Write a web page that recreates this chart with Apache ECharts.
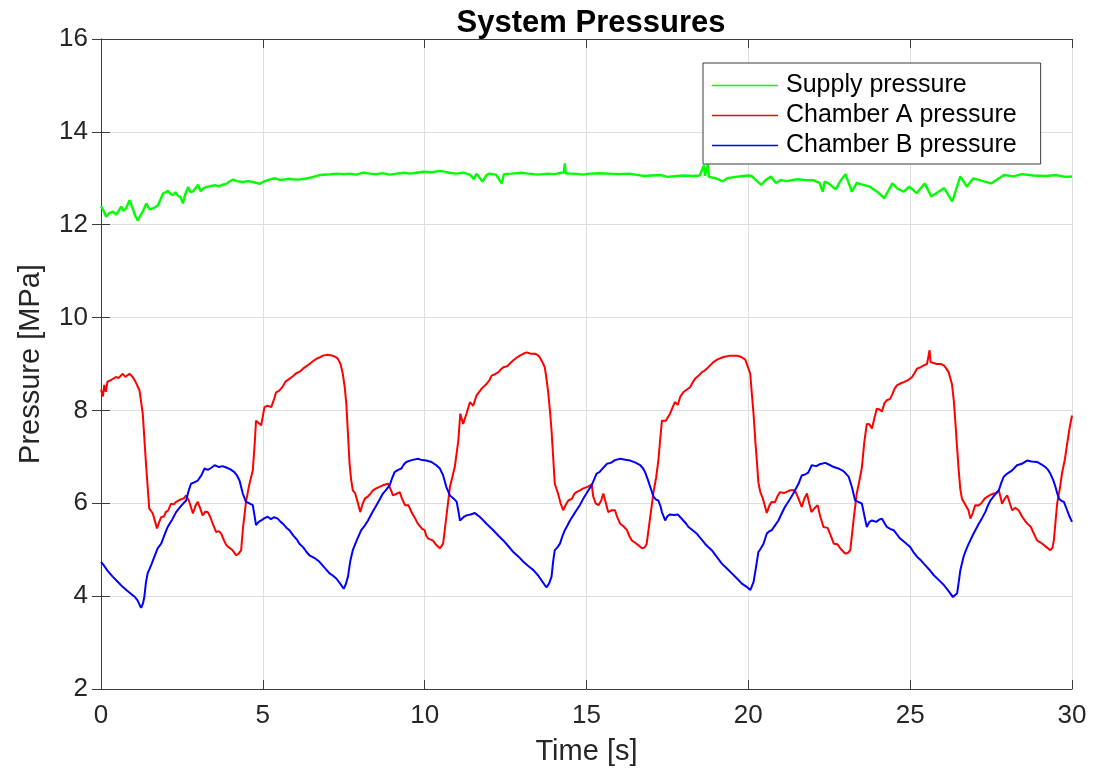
<!DOCTYPE html>
<html>
<head>
<meta charset="utf-8">
<title>System Pressures</title>
<script src="https://cdn.jsdelivr.net/npm/echarts@6/dist/echarts.min.js"></script>
<style>
  html, body { margin: 0; padding: 0; background: #fff; }
  #chart { width: 1104px; height: 772px; }
</style>
</head>
<body>
<div id="chart"></div>
<script>
// Axis ticks
const timeTicks = [0, 5, 10, 15, 20, 25, 30];
const pressureTicks = [2, 4, 6, 8, 10, 12, 14, 16];

// Supply pressure [MPa] over time [s]
const supplyTime = [
  0.00, 0.08, 0.16, 0.25, 0.37, 0.47, 0.55, 0.62, 0.70, 0.78, 0.88, 0.98, 1.05, 1.14, 1.22, 1.30,
  1.40, 1.50, 1.60, 1.68, 1.76, 1.84, 1.91, 2.00, 2.07, 2.15, 2.22, 2.30, 2.38, 2.45, 2.53, 2.60,
  2.69, 2.77, 2.85, 3.00, 3.08, 3.15, 3.25, 3.38, 3.51, 3.65, 3.75, 3.87, 3.97, 4.08, 4.20, 4.39,
  4.55, 4.70, 4.90, 5.00, 5.11, 5.25, 5.37, 5.50, 5.65, 5.80, 5.93, 6.10, 6.30, 6.50, 6.76, 7.00,
  7.27, 7.50, 7.70, 7.89, 8.10, 8.30, 8.50, 8.70, 8.90, 9.13, 9.35, 9.55, 9.75, 9.95, 10.20, 10.40,
  10.57, 10.75, 10.98, 11.20, 11.40, 11.52, 11.60, 11.79, 11.91, 12.00, 12.20, 12.38, 12.45, 12.70, 13.00, 13.20,
  13.50, 13.80, 14.00, 14.30, 14.33, 14.36, 14.60, 14.90, 15.10, 15.40, 15.70, 16.00, 16.30, 16.50, 16.80, 17.00,
  17.30, 17.50, 17.80, 18.00, 18.30, 18.50, 18.63, 18.66, 18.75, 18.78, 19.00, 19.10, 19.20, 19.35, 19.60, 19.85,
  20.00, 20.10, 20.20, 20.40, 20.55, 20.70, 20.85, 21.00, 21.20, 21.50, 21.80, 22.00, 22.20, 22.30, 22.36, 22.50,
  22.70, 22.85, 23.00, 23.20, 23.35, 23.55, 23.75, 24.00, 24.20, 24.45, 24.60, 24.80, 24.97, 25.20, 25.45, 25.65,
  25.90, 26.05, 26.30, 26.55, 26.75, 26.95, 27.20, 27.50, 27.90, 28.20, 28.45, 28.80, 29.20, 29.50, 29.80, 30.00
];
const supplyMPa = [
  12.40, 12.30, 12.17, 12.25, 12.28, 12.22, 12.30, 12.39, 12.30, 12.36, 12.53, 12.35, 12.20, 12.09, 12.20, 12.30,
  12.46, 12.33, 12.35, 12.38, 12.42, 12.55, 12.67, 12.70, 12.73, 12.66, 12.64, 12.70, 12.62, 12.60, 12.46, 12.65,
  12.81, 12.70, 12.72, 12.86, 12.72, 12.78, 12.81, 12.83, 12.85, 12.83, 12.86, 12.88, 12.93, 12.97, 12.94, 12.92,
  12.94, 12.92, 12.88, 12.92, 12.95, 12.98, 13.00, 12.97, 12.97, 12.99, 12.98, 12.97, 12.99, 13.02, 13.07, 13.08,
  13.10, 13.09, 13.10, 13.08, 13.12, 13.10, 13.09, 13.11, 13.08, 13.10, 13.12, 13.10, 13.12, 13.14, 13.13, 13.15,
  13.15, 13.12, 13.10, 13.12, 13.08, 12.98, 13.10, 12.93, 13.07, 13.10, 13.08, 12.89, 13.09, 13.10, 13.12, 13.10,
  13.08, 13.10, 13.09, 13.13, 13.32, 13.10, 13.10, 13.08, 13.10, 13.11, 13.10, 13.09, 13.10, 13.08, 13.05, 13.06,
  13.07, 13.03, 13.05, 13.06, 13.05, 13.06, 13.28, 13.05, 13.30, 13.03, 13.00, 12.97, 12.93, 13.00, 13.03, 13.05,
  13.06, 13.05, 12.98, 12.86, 12.97, 13.04, 12.90, 12.96, 12.94, 12.98, 12.96, 12.96, 12.90, 12.71, 12.93, 12.88,
  12.76, 12.95, 13.09, 12.71, 12.90, 12.86, 12.82, 12.70, 12.57, 12.89, 12.78, 12.71, 12.82, 12.68, 12.89, 12.61,
  12.72, 12.79, 12.50, 13.04, 12.82, 13.00, 12.95, 12.89, 13.07, 13.04, 13.09, 13.06, 13.05, 13.07, 13.03, 13.04
];

// Chamber A pressure [MPa] over time [s]
const chamberATime = [
  0.00, 0.06, 0.10, 0.15, 0.20, 0.30, 0.46, 0.55, 0.67, 0.75, 0.88, 0.98, 1.08, 1.19, 1.29, 1.39,
  1.49, 1.60, 1.73, 1.80, 1.86, 1.95, 2.00, 2.08, 2.16, 2.25, 2.32, 2.45, 2.55, 2.63, 2.72, 2.84,
  2.92, 2.99, 3.06, 3.14, 3.22, 3.30, 3.38, 3.45, 3.56, 3.64, 3.71, 3.80, 3.87, 3.95, 4.05, 4.18,
  4.26, 4.33, 4.38, 4.48, 4.58, 4.69, 4.75, 4.79, 4.85, 4.95, 5.05, 5.15, 5.26, 5.35, 5.41, 5.50,
  5.60, 5.70, 5.82, 5.92, 6.03, 6.13, 6.24, 6.34, 6.44, 6.55, 6.65, 6.75, 6.86, 7.00, 7.16, 7.25,
  7.32, 7.40, 7.47, 7.53, 7.58, 7.63, 7.68, 7.73, 7.78, 7.85, 7.92, 8.01, 8.08, 8.15, 8.25, 8.32,
  8.40, 8.50, 8.62, 8.75, 8.87, 8.95, 9.02, 9.12, 9.23, 9.30, 9.39, 9.50, 9.60, 9.70, 9.79, 9.92,
  10.00, 10.05, 10.11, 10.25, 10.36, 10.47, 10.57, 10.67, 10.78, 10.93, 11.04, 11.10, 11.19, 11.29, 11.40, 11.50,
  11.60, 11.76, 11.91, 12.00, 12.07, 12.17, 12.27, 12.35, 12.43, 12.55, 12.65, 12.74, 12.85, 12.94, 13.05, 13.15,
  13.28, 13.40, 13.48, 13.55, 13.63, 13.71, 13.76, 13.81, 13.87, 13.92, 13.97, 14.02, 14.12, 14.20, 14.28, 14.36,
  14.44, 14.55, 14.62, 14.69, 14.80, 14.90, 15.05, 15.16, 15.21, 15.28, 15.37, 15.45, 15.52, 15.60, 15.67, 15.78,
  15.88, 15.95, 16.04, 16.15, 16.25, 16.32, 16.40, 16.50, 16.60, 16.71, 16.80, 16.86, 16.97, 17.07, 17.15, 17.22,
  17.28, 17.33, 17.45, 17.58, 17.65, 17.73, 17.82, 17.90, 17.99, 18.10, 18.20, 18.28, 18.35, 18.45, 18.56, 18.65,
  18.72, 18.82, 18.92, 19.05, 19.23, 19.44, 19.65, 19.78, 19.90, 19.97, 20.06, 20.10, 20.16, 20.22, 20.27, 20.31,
  20.37, 20.45, 20.57, 20.65, 20.72, 20.82, 20.90, 20.98, 21.10, 21.20, 21.30, 21.44, 21.55, 21.65, 21.73, 21.81,
  21.88, 21.95, 22.05, 22.14, 22.22, 22.32, 22.45, 22.55, 22.64, 22.75, 22.85, 22.99, 23.08, 23.15, 23.25, 23.35,
  23.45, 23.51, 23.58, 23.66, 23.74, 23.82, 23.90, 23.97, 24.05, 24.13, 24.20, 24.28, 24.38, 24.45, 24.52, 24.59,
  24.70, 24.80, 24.93, 25.06, 25.13, 25.21, 25.32, 25.42, 25.52, 25.58, 25.60, 25.63, 25.72, 25.83, 25.95, 26.04,
  26.12, 26.19, 26.29, 26.35, 26.40, 26.45, 26.50, 26.55, 26.60, 26.68, 26.74, 26.80, 26.86, 26.94, 27.01, 27.10,
  27.20, 27.30, 27.38, 27.48, 27.58, 27.66, 27.74, 27.84, 27.92, 28.00, 28.08, 28.15, 28.25, 28.35, 28.46, 28.55,
  28.62, 28.72, 28.82, 28.92, 29.02, 29.13, 29.22, 29.33, 29.40, 29.44, 29.54, 29.62, 29.69, 29.78, 29.85, 29.92,
  30.00
];
const chamberAMPa = [
  8.45, 8.30, 8.55, 8.40, 8.62, 8.65, 8.72, 8.70, 8.79, 8.72, 8.79, 8.72, 8.60, 8.43, 7.93, 6.85,
  5.89, 5.78, 5.46, 5.60, 5.70, 5.72, 5.81, 5.85, 5.99, 5.98, 6.03, 6.08, 6.10, 6.17, 6.05, 5.78,
  5.95, 6.03, 5.90, 5.74, 5.82, 5.81, 5.70, 5.56, 5.38, 5.40, 5.35, 5.20, 5.10, 5.05, 5.00, 4.88,
  4.92, 4.99, 5.42, 6.03, 6.40, 6.71, 7.30, 7.78, 7.82, 7.68, 8.07, 8.10, 8.07, 8.25, 8.39, 8.42,
  8.50, 8.62, 8.68, 8.73, 8.80, 8.83, 8.90, 8.95, 9.00, 9.06, 9.11, 9.14, 9.18, 9.20, 9.18, 9.15,
  9.11, 9.00, 8.79, 8.50, 8.14, 7.50, 6.85, 6.50, 6.28, 6.22, 6.05, 5.81, 5.98, 6.10, 6.15, 6.20,
  6.28, 6.32, 6.36, 6.40, 6.42, 6.30, 6.17, 6.20, 6.24, 6.10, 5.96, 5.96, 5.80, 5.68, 5.56, 5.45,
  5.42, 5.30, 5.24, 5.20, 5.10, 5.03, 5.13, 5.71, 6.35, 6.78, 7.35, 7.93, 7.71, 7.93, 8.18, 8.10,
  8.32, 8.47, 8.57, 8.65, 8.75, 8.78, 8.82, 8.88, 8.93, 8.95, 9.02, 9.08, 9.14, 9.18, 9.22, 9.25,
  9.22, 9.22, 9.20, 9.15, 9.05, 8.93, 8.70, 8.43, 8.00, 7.57, 7.00, 6.42, 6.21, 6.00, 5.85, 5.97,
  6.06, 6.10, 6.20, 6.24, 6.28, 6.32, 6.36, 6.41, 6.14, 6.00, 5.96, 6.05, 6.21, 6.00, 5.81, 5.85,
  5.85, 5.70, 5.56, 5.50, 5.42, 5.30, 5.20, 5.15, 5.10, 5.03, 5.05, 5.13, 5.71, 6.24, 6.55, 6.92,
  7.40, 7.78, 7.78, 7.93, 8.05, 8.18, 8.12, 8.30, 8.39, 8.45, 8.50, 8.60, 8.68, 8.74, 8.82, 8.86,
  8.90, 8.97, 9.04, 9.10, 9.15, 9.18, 9.18, 9.15, 9.10, 8.97, 8.79, 8.43, 7.93, 7.30, 6.85, 6.45,
  6.24, 6.10, 5.79, 5.95, 6.03, 6.02, 6.15, 6.24, 6.22, 6.25, 6.28, 6.28, 6.10, 5.92, 6.10, 6.21,
  6.00, 5.81, 5.90, 5.96, 5.72, 5.49, 5.47, 5.30, 5.13, 5.12, 5.02, 4.92, 4.93, 4.99, 5.63, 6.21,
  6.55, 6.78, 7.30, 7.71, 7.70, 7.61, 7.85, 8.04, 8.02, 7.98, 8.15, 8.22, 8.25, 8.35, 8.47, 8.54,
  8.58, 8.61, 8.65, 8.72, 8.80, 8.90, 8.93, 8.97, 9.00, 9.04, 9.30, 9.04, 9.02, 9.00, 9.00, 8.97,
  8.90, 8.82, 8.57, 8.20, 7.71, 7.20, 6.71, 6.30, 6.10, 6.00, 5.99, 5.85, 5.67, 5.80, 5.96, 5.95,
  6.00, 6.10, 6.14, 6.18, 6.21, 6.22, 6.28, 5.99, 6.10, 6.17, 6.00, 5.85, 5.90, 5.85, 5.71, 5.62,
  5.56, 5.50, 5.35, 5.20, 5.16, 5.10, 5.05, 4.99, 5.05, 5.20, 5.99, 6.30, 6.64, 6.95, 7.28, 7.60,
  7.89
];

// Chamber B pressure [MPa] over time [s]
const chamberBTime = [
  0.00, 0.10, 0.20, 0.36, 0.50, 0.67, 0.80, 0.98, 1.05, 1.13, 1.20, 1.24, 1.30, 1.34, 1.39, 1.44,
  1.55, 1.65, 1.75, 1.86, 1.95, 2.06, 2.20, 2.32, 2.48, 2.63, 2.70, 2.78, 2.88, 2.99, 3.10, 3.20,
  3.30, 3.40, 3.51, 3.65, 3.75, 3.87, 4.00, 4.12, 4.20, 4.28, 4.33, 4.38, 4.48, 4.58, 4.69, 4.74,
  4.79, 4.87, 4.95, 5.05, 5.15, 5.25, 5.35, 5.46, 5.55, 5.62, 5.72, 5.82, 5.95, 6.05, 6.13, 6.25,
  6.35, 6.44, 6.60, 6.75, 6.90, 7.06, 7.15, 7.27, 7.40, 7.50, 7.56, 7.63, 7.70, 7.78, 7.90, 8.04,
  8.15, 8.25, 8.38, 8.51, 8.60, 8.71, 8.82, 8.92, 9.00, 9.07, 9.18, 9.28, 9.35, 9.43, 9.60, 9.79,
  9.92, 10.05, 10.21, 10.36, 10.47, 10.57, 10.67, 10.78, 10.90, 10.99, 11.05, 11.09, 11.20, 11.29, 11.42, 11.55,
  11.62, 11.70, 11.80, 11.91, 12.00, 12.12, 12.28, 12.43, 12.58, 12.74, 12.90, 13.05, 13.20, 13.36, 13.50, 13.61,
  13.70, 13.77, 13.85, 13.92, 13.97, 14.02, 14.10, 14.18, 14.25, 14.33, 14.41, 14.49, 14.60, 14.69, 14.80, 14.90,
  15.03, 15.16, 15.24, 15.31, 15.40, 15.50, 15.63, 15.75, 15.88, 16.04, 16.20, 16.35, 16.50, 16.66, 16.75, 16.81,
  16.90, 16.97, 17.07, 17.15, 17.22, 17.28, 17.33, 17.43, 17.50, 17.58, 17.70, 17.82, 17.90, 17.99, 18.08, 18.15,
  18.28, 18.40, 18.52, 18.66, 18.76, 18.87, 19.02, 19.18, 19.33, 19.49, 19.65, 19.80, 19.95, 20.06, 20.10, 20.16,
  20.22, 20.31, 20.36, 20.47, 20.57, 20.65, 20.72, 20.82, 20.93, 21.03, 21.13, 21.26, 21.39, 21.47, 21.55, 21.65,
  21.75, 21.85, 21.96, 22.10, 22.20, 22.38, 22.50, 22.64, 22.78, 22.90, 23.00, 23.10, 23.20, 23.30, 23.40, 23.51,
  23.58, 23.66, 23.74, 23.82, 23.95, 24.05, 24.13, 24.20, 24.28, 24.38, 24.49, 24.59, 24.69, 24.85, 25.00, 25.10,
  25.21, 25.32, 25.42, 25.58, 25.73, 25.88, 26.04, 26.14, 26.24, 26.32, 26.37, 26.45, 26.50, 26.55, 26.65, 26.73,
  26.81, 26.96, 27.12, 27.22, 27.32, 27.40, 27.48, 27.60, 27.74, 27.82, 27.89, 28.00, 28.15, 28.30, 28.45, 28.61,
  28.75, 28.92, 29.05, 29.18, 29.26, 29.33, 29.42, 29.49, 29.55, 29.60, 29.68, 29.75, 29.85, 29.92, 30.00
];
const chamberBMPa = [
  4.74, 4.65, 4.55, 4.42, 4.32, 4.20, 4.12, 4.02, 3.98, 3.91, 3.80, 3.75, 3.85, 3.99, 4.30, 4.49,
  4.67, 4.85, 5.03, 5.13, 5.30, 5.49, 5.65, 5.81, 5.95, 6.06, 6.25, 6.42, 6.45, 6.49, 6.60, 6.75,
  6.72, 6.76, 6.82, 6.78, 6.80, 6.77, 6.73, 6.67, 6.60, 6.49, 6.35, 6.21, 6.03, 6.00, 5.96, 5.75,
  5.53, 5.60, 5.63, 5.68, 5.71, 5.66, 5.70, 5.67, 5.60, 5.56, 5.48, 5.42, 5.30, 5.22, 5.13, 5.05,
  4.95, 4.88, 4.82, 4.74, 4.62, 4.49, 4.45, 4.38, 4.26, 4.16, 4.25, 4.42, 4.75, 4.99, 5.20, 5.42,
  5.52, 5.63, 5.80, 5.96, 6.07, 6.21, 6.30, 6.39, 6.55, 6.67, 6.72, 6.75, 6.83, 6.89, 6.93, 6.96,
  6.93, 6.92, 6.89, 6.82, 6.75, 6.60, 6.35, 6.17, 6.10, 6.03, 5.80, 5.63, 5.70, 5.74, 5.76, 5.79,
  5.75, 5.71, 5.64, 5.56, 5.50, 5.42, 5.30, 5.20, 5.08, 4.95, 4.85, 4.74, 4.65, 4.56, 4.45, 4.34,
  4.25, 4.19, 4.28, 4.42, 4.75, 4.99, 5.05, 5.13, 5.28, 5.42, 5.52, 5.63, 5.75, 5.85, 5.97, 6.10,
  6.25, 6.39, 6.52, 6.64, 6.67, 6.75, 6.85, 6.87, 6.93, 6.96, 6.94, 6.92, 6.88, 6.82, 6.75, 6.67,
  6.50, 6.35, 6.14, 6.08, 6.06, 5.95, 5.81, 5.63, 5.72, 5.76, 5.75, 5.76, 5.70, 5.63, 5.56, 5.49,
  5.42, 5.35, 5.25, 5.13, 5.06, 4.99, 4.85, 4.70, 4.60, 4.49, 4.38, 4.27, 4.20, 4.13, 4.09, 4.30,
  4.55, 4.95, 5.00, 5.13, 5.35, 5.40, 5.42, 5.52, 5.63, 5.78, 5.92, 6.06, 6.21, 6.32, 6.42, 6.60,
  6.62, 6.66, 6.82, 6.80, 6.84, 6.87, 6.83, 6.78, 6.75, 6.71, 6.65, 6.57, 6.35, 6.06, 6.03, 5.99,
  5.75, 5.49, 5.60, 5.63, 5.60, 5.65, 5.67, 5.58, 5.49, 5.45, 5.42, 5.33, 5.24, 5.15, 5.06, 4.95,
  4.85, 4.78, 4.70, 4.58, 4.45, 4.35, 4.24, 4.15, 4.06, 3.98, 3.95, 4.06, 4.30, 4.56, 4.85, 5.00,
  5.13, 5.35, 5.56, 5.68, 5.81, 5.95, 6.06, 6.17, 6.28, 6.45, 6.57, 6.64, 6.71, 6.82, 6.85, 6.92,
  6.90, 6.89, 6.84, 6.78, 6.72, 6.64, 6.50, 6.35, 6.20, 6.10, 6.05, 6.03, 5.85, 5.72, 5.60
];

const pairs = (xs, ys) => xs.map((x, i) => [x, ys[i]]);

const FONT = '"Liberation Sans", Arial, Helvetica, sans-serif';
const AXIS_COLOR = '#3c3c3c';
const GRID_COLOR = '#dedede';
const TEXT_COLOR = '#262626';

const chart = echarts.init(document.getElementById('chart'), null, { renderer: 'canvas' });

const tickRange = (ticks) => ({
  min: ticks[0],
  max: ticks[ticks.length - 1],
  interval: ticks[1] - ticks[0]
});

// Top and right axes close the box, with inward ticks and no labels
const boxAxisCommon = {
  type: 'value',
  axisLine: { show: true, lineStyle: { color: AXIS_COLOR, width: 1 } },
  axisTick: { show: true, inside: true, length: 9, lineStyle: { color: AXIS_COLOR, width: 1 } },
  splitLine: { show: false },
  axisLabel: { show: false }
};

chart.setOption({
  animation: false,
  backgroundColor: '#ffffff',
  title: {
    text: 'System Pressures',
    left: 586,
    top: 3,
    textAlign: 'center',
    textStyle: { fontFamily: FONT, fontSize: 31, fontWeight: 'bold', color: '#000000' }
  },
  legend: {
    orient: 'vertical',
    left: 703,
    top: 63,
    padding: [10, 24, 6, 9],
    itemGap: 5,
    itemWidth: 66,
    itemHeight: 1.6,
    icon: 'rect',
    backgroundColor: '#ffffff',
    borderColor: AXIS_COLOR,
    borderWidth: 1,
    borderRadius: 0,
    textStyle: { fontFamily: FONT, fontSize: 25, lineHeight: 25, color: '#000000', padding: [0, 0, 0, 3] },
    data: ['Supply pressure', 'Chamber A pressure', 'Chamber B pressure']
  },
  grid: { left: 101, right: 32, top: 39, bottom: 83, containLabel: false },
  xAxis: [
    Object.assign({}, tickRange(timeTicks), {
      type: 'value',
      position: 'bottom',
      name: 'Time [s]',
      nameLocation: 'middle',
      nameGap: 48,
      nameTextStyle: { fontFamily: FONT, fontSize: 29, color: TEXT_COLOR },
      axisLine: { show: true, lineStyle: { color: AXIS_COLOR, width: 1 } },
      axisTick: { show: true, inside: true, length: 9, lineStyle: { color: AXIS_COLOR, width: 1 } },
      axisLabel: { fontFamily: FONT, fontSize: 26, color: TEXT_COLOR, margin: 14 },
      splitLine: { show: true, lineStyle: { color: GRID_COLOR, width: 1 } }
    }),
    Object.assign({}, tickRange(timeTicks), boxAxisCommon, { position: 'top' })
  ],
  yAxis: [
    Object.assign({}, tickRange(pressureTicks), {
      type: 'value',
      position: 'left',
      name: 'Pressure [MPa]',
      nameLocation: 'middle',
      nameGap: 56,
      nameTextStyle: { fontFamily: FONT, fontSize: 29, color: TEXT_COLOR },
      axisLine: { show: true, lineStyle: { color: AXIS_COLOR, width: 1 } },
      axisTick: { show: true, inside: true, length: 9, lineStyle: { color: AXIS_COLOR, width: 1 } },
      axisLabel: { fontFamily: FONT, fontSize: 26, color: TEXT_COLOR, margin: 13 },
      splitLine: { show: true, lineStyle: { color: GRID_COLOR, width: 1 } }
    }),
    Object.assign({}, tickRange(pressureTicks), boxAxisCommon, { position: 'right' })
  ],
  series: [
    {
      name: 'Supply pressure',
      type: 'line',
      data: pairs(supplyTime, supplyMPa),
      symbol: 'none',
      lineStyle: { color: '#00ff00', width: 2.4 },
      itemStyle: { color: '#00ff00' }
    },
    {
      name: 'Chamber A pressure',
      type: 'line',
      data: pairs(chamberATime, chamberAMPa),
      symbol: 'none',
      lineStyle: { color: '#ff0000', width: 2 },
      itemStyle: { color: '#ff0000' }
    },
    {
      name: 'Chamber B pressure',
      type: 'line',
      data: pairs(chamberBTime, chamberBMPa),
      symbol: 'none',
      lineStyle: { color: '#0000ff', width: 2 },
      itemStyle: { color: '#0000ff' }
    }
  ]
});
</script>
</body>
</html>
